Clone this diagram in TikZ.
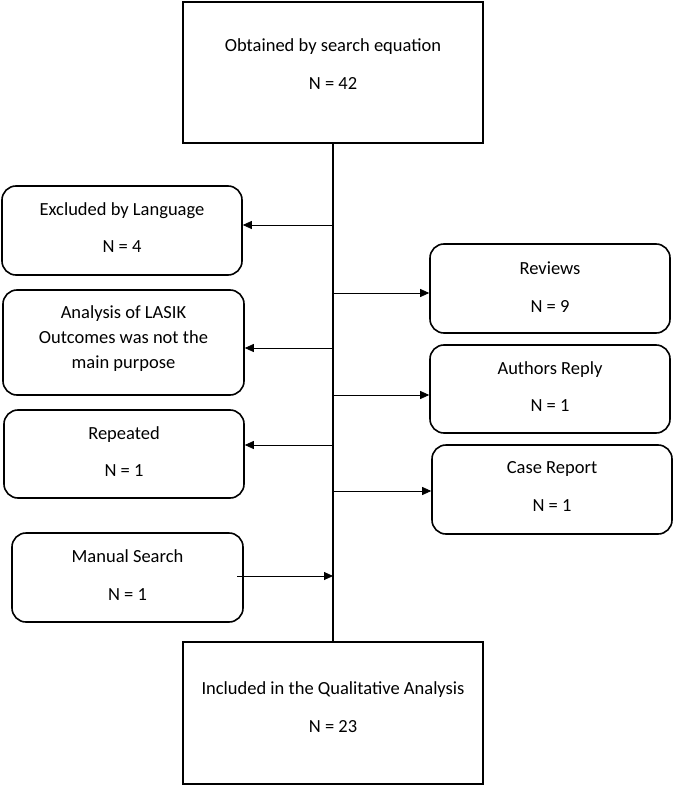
\documentclass[tikz,border=0pt]{standalone}
\usepackage{fontspec}
\setmainfont{Carlito}
\usetikzlibrary{arrows.meta}
\begin{document}
\begin{tikzpicture}[x=1pt,y=-1pt,
  box/.style={draw, line width=1.6pt, inner sep=0pt},
  rbox/.style={box, rounded corners=14pt},
  lbl/.style={anchor=base, inner sep=0pt, font=\fontsize{18.5}{22}\selectfont},
  arr/.style={-{Triangle[length=9pt,width=8pt]}, line width=0.8pt},
  spine/.style={line width=1.6pt}]
\useasboundingbox (0,0) rectangle (674,786);
% main boxes
\node[box, minimum width=300pt, minimum height=141pt] (top) at (333,72.5) {};
\node[lbl] (topA) at (333,52) {Obtained by search equation};
\node[lbl] (topB) at (333,90) {N = 42};
\node[box, minimum width=300pt, minimum height=142pt] (bot) at (333,713) {};
\node[lbl] (botA) at (333,694) {Included in the Qualitative Analysis};
\node[lbl] (botB) at (333,732) {N = 23};
\draw[spine] (top.south) -- (bot.north);
% left boxes
\node[rbox, minimum width=240pt, minimum height=89pt] (lang) at (122,230.5) {};
\node[lbl] (langA) at (122,216) {Excluded by Language};
\node[lbl] (langB) at (122,252) {N = 4};
\node[rbox, minimum width=241pt, minimum height=105pt] (anal) at (123.5,342.5) {};
\node[lbl] (analA) at (123.5,318) {Analysis of LASIK};
\node[lbl] (analB) at (123.5,343) {Outcomes was not the};
\node[lbl] (analC) at (123.5,368) {main purpose};
\node[rbox, minimum width=240pt, minimum height=88pt] (rep) at (124,454) {};
\node[lbl] (repA) at (124,439) {Repeated};
\node[lbl] (repB) at (124,476) {N = 1};
\node[rbox, minimum width=231pt, minimum height=89pt] (ms) at (127.5,577.5) {};
\node[lbl] (msA) at (127.5,562) {Manual Search};
\node[lbl] (msB) at (127.5,600) {N = 1};
% right boxes
\node[rbox, minimum width=240pt, minimum height=89pt] (rev) at (550,288.5) {};
\node[lbl] (revA) at (550,274) {Reviews};
\node[lbl] (revB) at (550,312) {N = 9};
\node[rbox, minimum width=240pt, minimum height=88pt] (auth) at (550,389) {};
\node[lbl] (authA) at (550,374) {Authors Reply};
\node[lbl] (authB) at (550,411) {N = 1};
\node[rbox, minimum width=240pt, minimum height=89pt] (case) at (552,489.5) {};
\node[lbl] (caseA) at (552,473) {Case Report};
\node[lbl] (caseB) at (552,511) {N = 1};
% spine points
\coordinate (s1) at (333,225);
\coordinate (s2) at (333,293);
\coordinate (s3) at (333,348);
\coordinate (s4) at (333,395);
\coordinate (s5) at (333,445);
\coordinate (s6) at (333,491);
\coordinate (s7) at (333,576);
\coordinate (msOut) at (237,576);
\draw[arr] (s1) -- (s1 -| lang.east);
\draw[arr] (s2) -- (s2 -| rev.west);
\draw[arr] (s3) -- (s3 -| anal.east);
\draw[arr] (s4) -- (s4 -| auth.west);
\draw[arr] (s5) -- (s5 -| rep.east);
\draw[arr] (s6) -- (s6 -| case.west);
\draw[arr] (msOut) -- (s7);
\end{tikzpicture}
\end{document}
